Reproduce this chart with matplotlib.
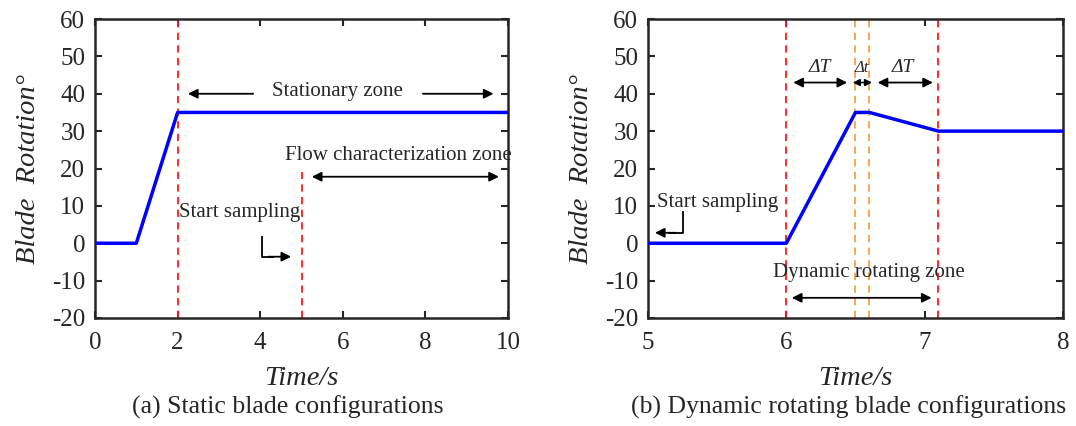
import matplotlib
matplotlib.use("Agg")
import matplotlib.pyplot as plt

# Data
t_static = [0, 1, 2, 10]
rot_static = [0, 0, 35, 35]
t_dyn = [5, 6, 6.5, 6.6, 7.1, 8]
rot_dyn = [0, 0, 35, 35, 30, 30]
static_red_lines = [2, 5]
dyn_red_lines = [6, 7.1]
dyn_orange_lines = [6.5, 6.6]
yticks = [-20, -10, 0, 10, 20, 30, 40, 50, 60]
xticks_static = [0, 2, 4, 6, 8, 10]
xticks_dyn = [5, 6, 7, 8]

plt.rcParams['font.family'] = ['Liberation Serif', 'DejaVu Serif']
plt.rcParams['axes.unicode_minus'] = False
TXT = '#262626'

fig = plt.figure(figsize=(10.76, 4.26), dpi=100)
W, H = 1076, 426
ax1 = fig.add_axes([95 / W, 1 - 318 / H, (508 - 95) / W, (318 - 19) / H])
ax2 = fig.add_axes([648 / W, 1 - 318 / H, (1063 - 648) / W, (318 - 19) / H])


def style(ax, xlim, xticks, caption, cap_x):
    ax.set_ylim(-20, 60)
    ax.set_xlim(*xlim)
    ax.set_yticks(yticks)
    ax.set_xticks(xticks)
    ax.tick_params(direction='in', top=True, right=True, length=5, width=1.5,
                   labelsize=18, labelcolor=TXT, color=TXT)
    ax.tick_params(axis='y', pad=7)
    ax.tick_params(axis='x', pad=10)
    for s in ax.spines.values():
        s.set_linewidth(1.8)
        s.set_color(TXT)
    ax.set_xlabel('Time/s', fontsize=20.5, style='italic', color=TXT, labelpad=9)
    ax.set_ylabel('Blade  Rotation°', fontsize=20.5, style='italic', color=TXT, labelpad=8)
    fig.text(cap_x / W, 1 - 407 / H, caption, ha='center', va='center',
             fontsize=18.5, color=TXT)


def arrow(ax, x0, y0, x1, y1, astyle='-|>'):
    ax.annotate('', xy=(x1, y1), xytext=(x0, y0),
                arrowprops=dict(arrowstyle=astyle, color='black', lw=1.3,
                                mutation_scale=14, shrinkA=0, shrinkB=0))


RED = '#FF1A1A'
ORANGE = '#F5A04A'
DASH = (0, (4, 3))

# Panel (a)
ax1.plot(t_static, rot_static, color='#0000FF', lw=2.5, zorder=3)
ax1.plot([static_red_lines[0]] * 2, [-20, 60], color=RED, lw=1.3, ls=DASH, zorder=2)
ax1.plot([static_red_lines[1]] * 2, [-20, 19], color=RED, lw=1.3, ls=DASH, zorder=2)
style(ax1, (0, 10), xticks_static, '(a) Static blade configurations', 288)
ax1.text(5.88, 40.5, 'Stationary zone', ha='center', va='center', fontsize=15, color=TXT)
arrow(ax1, 3.83, 40, 2.25, 40)
arrow(ax1, 7.94, 40, 9.65, 40)
ax1.text(7.34, 23.6, 'Flow characterization zone', ha='center', va='center', fontsize=15, color=TXT)
arrow(ax1, 5.25, 17.8, 9.78, 17.8, '<|-|>')
ax1.text(3.5, 8.1, 'Start sampling', ha='center', va='center', fontsize=15, color=TXT)
ax1.plot([4.04, 4.04, 4.3], [1.7, -3.6, -3.6], color='black', lw=1.3)
arrow(ax1, 4.2, -3.6, 4.75, -3.6)

# Panel (b)
ax2.plot(t_dyn, rot_dyn, color='#0000FF', lw=2.5, zorder=3)
for x in dyn_red_lines:
    ax2.plot([x, x], [-20, 60], color=RED, lw=1.3, ls=DASH, zorder=2)
for x in dyn_orange_lines:
    ax2.plot([x, x], [-20, 60], color=ORANGE, lw=1.3, ls=DASH, zorder=2)
style(ax2, (5, 8), xticks_dyn, '(b) Dynamic rotating blade configurations', 849)
ax2.text(6.24, 47, 'ΔT', ha='center', va='center', fontsize=14, style='italic', color=TXT)
ax2.text(6.545, 47, 'Δt', ha='center', va='center', fontsize=12, style='italic', color=TXT)
ax2.text(6.84, 47, 'ΔT', ha='center', va='center', fontsize=14, style='italic', color=TXT)
arrow(ax2, 6.05, 43, 6.44, 43, '<|-|>')
ax2.annotate('', xy=(6.62, 43), xytext=(6.48, 43),
             arrowprops=dict(arrowstyle='<|-|>', color='black', lw=1.2,
                             mutation_scale=10, shrinkA=0, shrinkB=0))
arrow(ax2, 6.66, 43, 7.06, 43, '<|-|>')
ax2.text(5.5, 10.8, 'Start sampling', ha='center', va='center', fontsize=15, color=TXT)
ax2.plot([5.25, 5.25, 5.15], [8.4, 2.8, 2.8], color='black', lw=1.3)
arrow(ax2, 5.2, 2.8, 5.05, 2.8)
ax2.text(6.6, -7.9, 'Dynamic rotating zone', ha='center', va='center', fontsize=15, color=TXT)
arrow(ax2, 6.04, -14.6, 7.05, -14.6, '<|-|>')

fig.savefig('out.png', dpi=100)
